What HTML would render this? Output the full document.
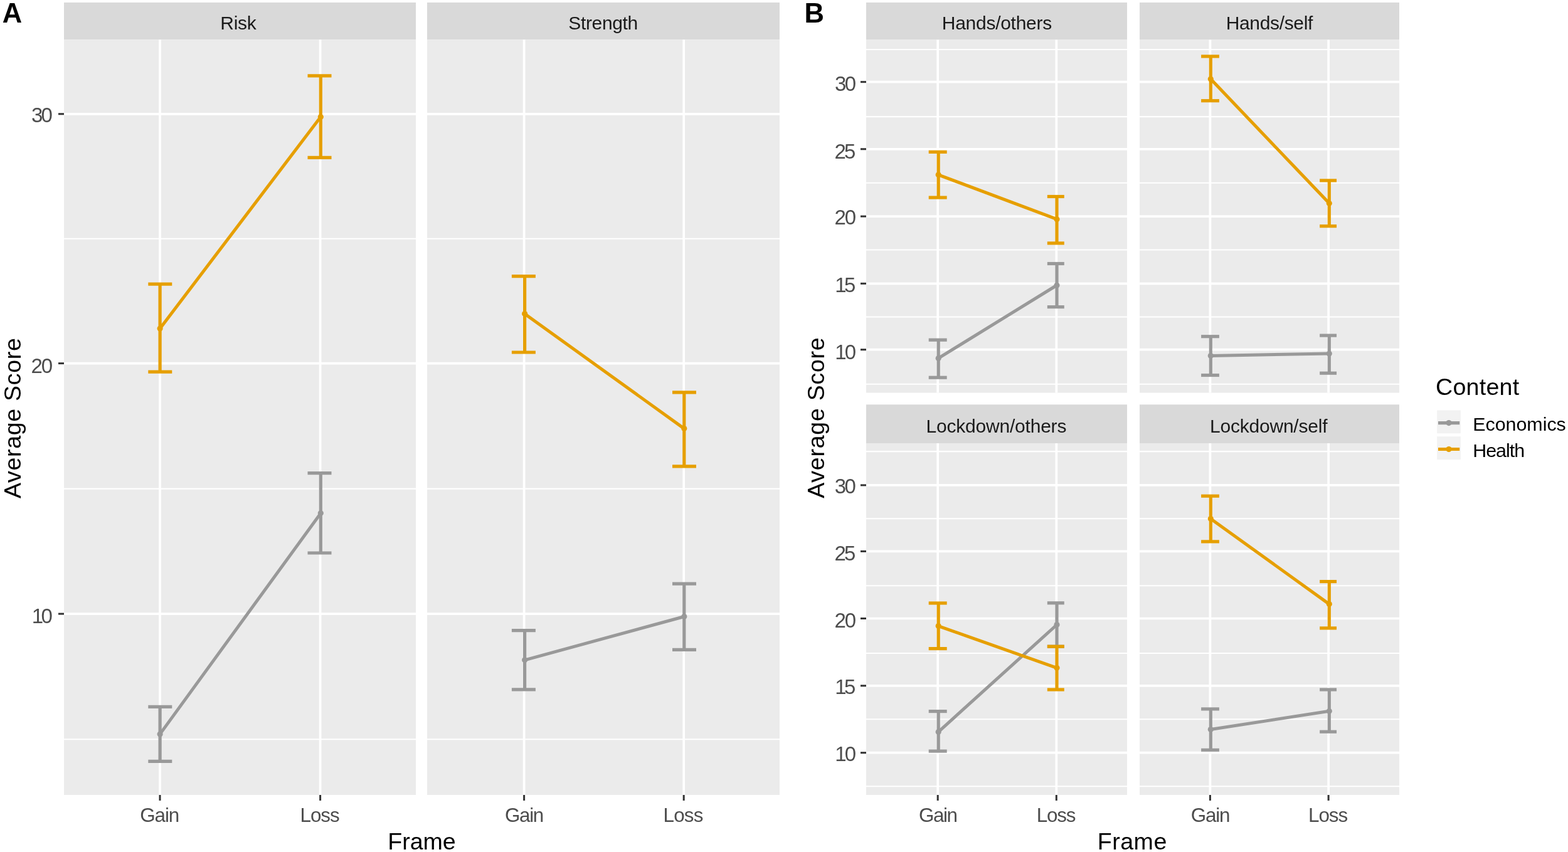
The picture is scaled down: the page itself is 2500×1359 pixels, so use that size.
<!DOCTYPE html>
<html><head><meta charset="utf-8"><title>Average Score by Frame and Content</title>
<style>
html,body{margin:0;padding:0;background:#FFFFFF;}
body{width:2500px;height:1359px;overflow:hidden;}
svg{display:block;}
svg text{font-family:'Liberation Sans', Arial, Helvetica, sans-serif;}
</style></head>
<body>
<svg width="2500" height="1359" viewBox="0 0 2500 1359">
<rect x="0" y="0" width="2500" height="1359" fill="#FFFFFF"/>
<rect x="102" y="4" width="561" height="59.3" fill="#D9D9D9"/>
<text x="380" y="46.8" font-size="30" fill="#1A1A1A" text-anchor="middle" font-weight="normal" textLength="57.33" lengthAdjust="spacing">Risk</text>
<rect x="102" y="63.3" width="561" height="1204.7" fill="#EBEBEB"/>
<g stroke="#FFFFFF">
<line x1="102" y1="380.7" x2="663" y2="380.7" stroke="#FFFFFF" stroke-width="2.1" stroke-linecap="butt"/>
<line x1="102" y1="779.6" x2="663" y2="779.6" stroke="#FFFFFF" stroke-width="2.1" stroke-linecap="butt"/>
<line x1="102" y1="1179.3" x2="663" y2="1179.3" stroke="#FFFFFF" stroke-width="2.1" stroke-linecap="butt"/>
<line x1="102" y1="181.8" x2="663" y2="181.8" stroke="#FFFFFF" stroke-width="3.7" stroke-linecap="butt"/>
<line x1="102" y1="579.6" x2="663" y2="579.6" stroke="#FFFFFF" stroke-width="3.7" stroke-linecap="butt"/>
<line x1="102" y1="979.1" x2="663" y2="979.1" stroke="#FFFFFF" stroke-width="3.7" stroke-linecap="butt"/>
<line x1="255" y1="63.3" x2="255" y2="1268" stroke="#FFFFFF" stroke-width="3.7" stroke-linecap="butt"/>
<line x1="510.6" y1="63.3" x2="510.6" y2="1268" stroke="#FFFFFF" stroke-width="3.7" stroke-linecap="butt"/>
</g>
<line x1="255.1" y1="1127.3" x2="255.1" y2="1214.3" stroke="#999999" stroke-width="5.2" stroke-linecap="butt"/>
<line x1="236.3" y1="1127.3" x2="274.3" y2="1127.3" stroke="#999999" stroke-width="5.2" stroke-linecap="butt"/>
<line x1="236.3" y1="1214.3" x2="274.3" y2="1214.3" stroke="#999999" stroke-width="5.2" stroke-linecap="butt"/>
<line x1="511.3" y1="754.7" x2="511.3" y2="882" stroke="#999999" stroke-width="5.2" stroke-linecap="butt"/>
<line x1="490.5" y1="754.7" x2="528.5" y2="754.7" stroke="#999999" stroke-width="5.2" stroke-linecap="butt"/>
<line x1="490.5" y1="882" x2="528.5" y2="882" stroke="#999999" stroke-width="5.2" stroke-linecap="butt"/>
<line x1="255.1" y1="1170.9" x2="511.3" y2="818.6" stroke="#999999" stroke-width="5" stroke-linecap="round"/>
<circle cx="255.1" cy="1170.9" r="4.6" fill="#999999"/>
<circle cx="511.3" cy="818.6" r="4.6" fill="#999999"/>
<line x1="255.1" y1="453.2" x2="255.1" y2="593.2" stroke="#E69F00" stroke-width="5.2" stroke-linecap="butt"/>
<line x1="236.3" y1="453.2" x2="274.3" y2="453.2" stroke="#E69F00" stroke-width="5.2" stroke-linecap="butt"/>
<line x1="236.3" y1="593.2" x2="274.3" y2="593.2" stroke="#E69F00" stroke-width="5.2" stroke-linecap="butt"/>
<line x1="511.3" y1="120.8" x2="511.3" y2="251.4" stroke="#E69F00" stroke-width="5.2" stroke-linecap="butt"/>
<line x1="490.5" y1="120.8" x2="528.5" y2="120.8" stroke="#E69F00" stroke-width="5.2" stroke-linecap="butt"/>
<line x1="490.5" y1="251.4" x2="528.5" y2="251.4" stroke="#E69F00" stroke-width="5.2" stroke-linecap="butt"/>
<line x1="255.1" y1="524" x2="511.3" y2="186.4" stroke="#E69F00" stroke-width="5" stroke-linecap="round"/>
<circle cx="255.1" cy="524" r="4.6" fill="#E69F00"/>
<circle cx="511.3" cy="186.4" r="4.6" fill="#E69F00"/>
<line x1="93" y1="181.8" x2="102" y2="181.8" stroke="#333333" stroke-width="3" stroke-linecap="butt"/>
<text x="83.8" y="194.71" font-size="33" fill="#4D4D4D" text-anchor="end" font-weight="normal" textLength="33.71" lengthAdjust="spacing">30</text>
<line x1="93" y1="579.6" x2="102" y2="579.6" stroke="#333333" stroke-width="3" stroke-linecap="butt"/>
<text x="84.2" y="594.51" font-size="33" fill="#4D4D4D" text-anchor="end" font-weight="normal" textLength="34.61" lengthAdjust="spacing">20</text>
<line x1="93" y1="979.1" x2="102" y2="979.1" stroke="#333333" stroke-width="3" stroke-linecap="butt"/>
<text x="83.8" y="994.11" font-size="33" fill="#4D4D4D" text-anchor="end" font-weight="normal" textLength="33.01" lengthAdjust="spacing">10</text>
<line x1="255" y1="1268" x2="255" y2="1277" stroke="#333333" stroke-width="3" stroke-linecap="butt"/>
<text x="254.75" y="1311.4" font-size="31.4" fill="#4D4D4D" text-anchor="middle" font-weight="normal" textLength="62.83" lengthAdjust="spacing">Gain</text>
<line x1="510.6" y1="1268" x2="510.6" y2="1277" stroke="#333333" stroke-width="3" stroke-linecap="butt"/>
<text x="510.1" y="1311.4" font-size="31.4" fill="#4D4D4D" text-anchor="middle" font-weight="normal" textLength="63.33" lengthAdjust="spacing">Loss</text>
<rect x="681" y="4" width="562" height="59.3" fill="#D9D9D9"/>
<text x="961.75" y="46.8" font-size="30" fill="#1A1A1A" text-anchor="middle" font-weight="normal" textLength="110.91" lengthAdjust="spacing">Strength</text>
<rect x="681" y="63.3" width="562" height="1204.7" fill="#EBEBEB"/>
<g stroke="#FFFFFF">
<line x1="681" y1="380.7" x2="1243" y2="380.7" stroke="#FFFFFF" stroke-width="2.1" stroke-linecap="butt"/>
<line x1="681" y1="779.6" x2="1243" y2="779.6" stroke="#FFFFFF" stroke-width="2.1" stroke-linecap="butt"/>
<line x1="681" y1="1179.3" x2="1243" y2="1179.3" stroke="#FFFFFF" stroke-width="2.1" stroke-linecap="butt"/>
<line x1="681" y1="181.8" x2="1243" y2="181.8" stroke="#FFFFFF" stroke-width="3.7" stroke-linecap="butt"/>
<line x1="681" y1="579.6" x2="1243" y2="579.6" stroke="#FFFFFF" stroke-width="3.7" stroke-linecap="butt"/>
<line x1="681" y1="979.1" x2="1243" y2="979.1" stroke="#FFFFFF" stroke-width="3.7" stroke-linecap="butt"/>
<line x1="835.6" y1="63.3" x2="835.6" y2="1268" stroke="#FFFFFF" stroke-width="3.7" stroke-linecap="butt"/>
<line x1="1090.2" y1="63.3" x2="1090.2" y2="1268" stroke="#FFFFFF" stroke-width="3.7" stroke-linecap="butt"/>
</g>
<line x1="836.6" y1="1005.7" x2="836.6" y2="1099.9" stroke="#999999" stroke-width="5.2" stroke-linecap="butt"/>
<line x1="815.9" y1="1005.7" x2="853.9" y2="1005.7" stroke="#999999" stroke-width="5.2" stroke-linecap="butt"/>
<line x1="815.9" y1="1099.9" x2="853.9" y2="1099.9" stroke="#999999" stroke-width="5.2" stroke-linecap="butt"/>
<line x1="1090.8" y1="931.1" x2="1090.8" y2="1036.4" stroke="#999999" stroke-width="5.2" stroke-linecap="butt"/>
<line x1="1072" y1="931.1" x2="1110" y2="931.1" stroke="#999999" stroke-width="5.2" stroke-linecap="butt"/>
<line x1="1072" y1="1036.4" x2="1110" y2="1036.4" stroke="#999999" stroke-width="5.2" stroke-linecap="butt"/>
<line x1="836.6" y1="1052.8" x2="1090.8" y2="983.5" stroke="#999999" stroke-width="5" stroke-linecap="round"/>
<circle cx="836.6" cy="1052.8" r="4.6" fill="#999999"/>
<circle cx="1090.8" cy="983.5" r="4.6" fill="#999999"/>
<line x1="836.6" y1="440.6" x2="836.6" y2="562" stroke="#E69F00" stroke-width="5.2" stroke-linecap="butt"/>
<line x1="815.9" y1="440.6" x2="853.9" y2="440.6" stroke="#E69F00" stroke-width="5.2" stroke-linecap="butt"/>
<line x1="815.9" y1="562" x2="853.9" y2="562" stroke="#E69F00" stroke-width="5.2" stroke-linecap="butt"/>
<line x1="1090.8" y1="625.9" x2="1090.8" y2="743.8" stroke="#E69F00" stroke-width="5.2" stroke-linecap="butt"/>
<line x1="1072" y1="625.9" x2="1110" y2="625.9" stroke="#E69F00" stroke-width="5.2" stroke-linecap="butt"/>
<line x1="1072" y1="743.8" x2="1110" y2="743.8" stroke="#E69F00" stroke-width="5.2" stroke-linecap="butt"/>
<line x1="836.6" y1="500.6" x2="1090.8" y2="683.6" stroke="#E69F00" stroke-width="5" stroke-linecap="round"/>
<circle cx="836.6" cy="500.6" r="4.6" fill="#E69F00"/>
<circle cx="1090.8" cy="683.6" r="4.6" fill="#E69F00"/>
<line x1="835.6" y1="1268" x2="835.6" y2="1277" stroke="#333333" stroke-width="3" stroke-linecap="butt"/>
<text x="836.1" y="1311.4" font-size="31.4" fill="#4D4D4D" text-anchor="middle" font-weight="normal" textLength="62.33" lengthAdjust="spacing">Gain</text>
<line x1="1090.2" y1="1268" x2="1090.2" y2="1277" stroke="#333333" stroke-width="3" stroke-linecap="butt"/>
<text x="1089.45" y="1311.4" font-size="31.4" fill="#4D4D4D" text-anchor="middle" font-weight="normal" textLength="63.83" lengthAdjust="spacing">Loss</text>
<rect x="1381" y="4" width="416" height="59.5" fill="#D9D9D9"/>
<text x="1589.5" y="47" font-size="30" fill="#1A1A1A" text-anchor="middle" font-weight="normal" textLength="175.44" lengthAdjust="spacing">Hands/others</text>
<rect x="1381" y="63.5" width="416" height="563" fill="#EBEBEB"/>
<g stroke="#FFFFFF">
<line x1="1381" y1="79" x2="1797" y2="79" stroke="#FFFFFF" stroke-width="2.1" stroke-linecap="butt"/>
<line x1="1381" y1="186.1" x2="1797" y2="186.1" stroke="#FFFFFF" stroke-width="2.1" stroke-linecap="butt"/>
<line x1="1381" y1="291.8" x2="1797" y2="291.8" stroke="#FFFFFF" stroke-width="2.1" stroke-linecap="butt"/>
<line x1="1381" y1="398.5" x2="1797" y2="398.5" stroke="#FFFFFF" stroke-width="2.1" stroke-linecap="butt"/>
<line x1="1381" y1="505.5" x2="1797" y2="505.5" stroke="#FFFFFF" stroke-width="2.1" stroke-linecap="butt"/>
<line x1="1381" y1="612.8" x2="1797" y2="612.8" stroke="#FFFFFF" stroke-width="2.1" stroke-linecap="butt"/>
<line x1="1381" y1="130.7" x2="1797" y2="130.7" stroke="#FFFFFF" stroke-width="3.7" stroke-linecap="butt"/>
<line x1="1381" y1="237.8" x2="1797" y2="237.8" stroke="#FFFFFF" stroke-width="3.7" stroke-linecap="butt"/>
<line x1="1381" y1="345.1" x2="1797" y2="345.1" stroke="#FFFFFF" stroke-width="3.7" stroke-linecap="butt"/>
<line x1="1381" y1="452.3" x2="1797" y2="452.3" stroke="#FFFFFF" stroke-width="3.7" stroke-linecap="butt"/>
<line x1="1381" y1="557.7" x2="1797" y2="557.7" stroke="#FFFFFF" stroke-width="3.7" stroke-linecap="butt"/>
<line x1="1495.2" y1="63.5" x2="1495.2" y2="626.5" stroke="#FFFFFF" stroke-width="3.7" stroke-linecap="butt"/>
<line x1="1684.3" y1="63.5" x2="1684.3" y2="626.5" stroke="#FFFFFF" stroke-width="3.7" stroke-linecap="butt"/>
</g>
<line x1="1496.2" y1="542.2" x2="1496.2" y2="602.2" stroke="#999999" stroke-width="5.2" stroke-linecap="butt"/>
<line x1="1480.7" y1="542.2" x2="1509.7" y2="542.2" stroke="#999999" stroke-width="5.2" stroke-linecap="butt"/>
<line x1="1480.7" y1="602.2" x2="1509.7" y2="602.2" stroke="#999999" stroke-width="5.2" stroke-linecap="butt"/>
<line x1="1685" y1="420.5" x2="1685" y2="489.6" stroke="#999999" stroke-width="5.2" stroke-linecap="butt"/>
<line x1="1669.8" y1="420.5" x2="1696.8" y2="420.5" stroke="#999999" stroke-width="5.2" stroke-linecap="butt"/>
<line x1="1669.8" y1="489.6" x2="1696.8" y2="489.6" stroke="#999999" stroke-width="5.2" stroke-linecap="butt"/>
<line x1="1496.2" y1="571.4" x2="1685" y2="455" stroke="#999999" stroke-width="5" stroke-linecap="round"/>
<circle cx="1496.2" cy="571.4" r="4.6" fill="#999999"/>
<circle cx="1685" cy="455" r="4.6" fill="#999999"/>
<line x1="1496.2" y1="242.4" x2="1496.2" y2="315.1" stroke="#E69F00" stroke-width="5.2" stroke-linecap="butt"/>
<line x1="1480.7" y1="242.4" x2="1509.7" y2="242.4" stroke="#E69F00" stroke-width="5.2" stroke-linecap="butt"/>
<line x1="1480.7" y1="315.1" x2="1509.7" y2="315.1" stroke="#E69F00" stroke-width="5.2" stroke-linecap="butt"/>
<line x1="1685" y1="313.5" x2="1685" y2="387.9" stroke="#E69F00" stroke-width="5.2" stroke-linecap="butt"/>
<line x1="1669.8" y1="313.5" x2="1696.8" y2="313.5" stroke="#E69F00" stroke-width="5.2" stroke-linecap="butt"/>
<line x1="1669.8" y1="387.9" x2="1696.8" y2="387.9" stroke="#E69F00" stroke-width="5.2" stroke-linecap="butt"/>
<line x1="1496.2" y1="278.8" x2="1685" y2="349.7" stroke="#E69F00" stroke-width="5" stroke-linecap="round"/>
<circle cx="1496.2" cy="278.8" r="4.6" fill="#E69F00"/>
<circle cx="1685" cy="349.7" r="4.6" fill="#E69F00"/>
<line x1="1372" y1="130.7" x2="1381" y2="130.7" stroke="#333333" stroke-width="3" stroke-linecap="butt"/>
<text x="1365" y="145.31" font-size="33" fill="#4D4D4D" text-anchor="end" font-weight="normal" textLength="33.91" lengthAdjust="spacing">30</text>
<line x1="1372" y1="237.8" x2="1381" y2="237.8" stroke="#333333" stroke-width="3" stroke-linecap="butt"/>
<text x="1364.4" y="252.91" font-size="33" fill="#4D4D4D" text-anchor="end" font-weight="normal" textLength="33.81" lengthAdjust="spacing">25</text>
<line x1="1372" y1="345.1" x2="1381" y2="345.1" stroke="#333333" stroke-width="3" stroke-linecap="butt"/>
<text x="1365" y="357.91" font-size="33" fill="#4D4D4D" text-anchor="end" font-weight="normal" textLength="34.51" lengthAdjust="spacing">20</text>
<line x1="1372" y1="452.3" x2="1381" y2="452.3" stroke="#333333" stroke-width="3" stroke-linecap="butt"/>
<text x="1364.4" y="465.71" font-size="33" fill="#4D4D4D" text-anchor="end" font-weight="normal" textLength="33.11" lengthAdjust="spacing">15</text>
<line x1="1372" y1="557.7" x2="1381" y2="557.7" stroke="#333333" stroke-width="3" stroke-linecap="butt"/>
<text x="1365" y="573.11" font-size="33" fill="#4D4D4D" text-anchor="end" font-weight="normal" textLength="33.81" lengthAdjust="spacing">10</text>
<rect x="1817" y="4" width="414" height="59.5" fill="#D9D9D9"/>
<text x="2024" y="47" font-size="30" fill="#1A1A1A" text-anchor="middle" font-weight="normal" textLength="138.74" lengthAdjust="spacing">Hands/self</text>
<rect x="1817" y="63.5" width="414" height="563" fill="#EBEBEB"/>
<g stroke="#FFFFFF">
<line x1="1817" y1="79" x2="2231" y2="79" stroke="#FFFFFF" stroke-width="2.1" stroke-linecap="butt"/>
<line x1="1817" y1="186.1" x2="2231" y2="186.1" stroke="#FFFFFF" stroke-width="2.1" stroke-linecap="butt"/>
<line x1="1817" y1="291.8" x2="2231" y2="291.8" stroke="#FFFFFF" stroke-width="2.1" stroke-linecap="butt"/>
<line x1="1817" y1="398.5" x2="2231" y2="398.5" stroke="#FFFFFF" stroke-width="2.1" stroke-linecap="butt"/>
<line x1="1817" y1="505.5" x2="2231" y2="505.5" stroke="#FFFFFF" stroke-width="2.1" stroke-linecap="butt"/>
<line x1="1817" y1="612.8" x2="2231" y2="612.8" stroke="#FFFFFF" stroke-width="2.1" stroke-linecap="butt"/>
<line x1="1817" y1="130.7" x2="2231" y2="130.7" stroke="#FFFFFF" stroke-width="3.7" stroke-linecap="butt"/>
<line x1="1817" y1="237.8" x2="2231" y2="237.8" stroke="#FFFFFF" stroke-width="3.7" stroke-linecap="butt"/>
<line x1="1817" y1="345.1" x2="2231" y2="345.1" stroke="#FFFFFF" stroke-width="3.7" stroke-linecap="butt"/>
<line x1="1817" y1="452.3" x2="2231" y2="452.3" stroke="#FFFFFF" stroke-width="3.7" stroke-linecap="butt"/>
<line x1="1817" y1="557.7" x2="2231" y2="557.7" stroke="#FFFFFF" stroke-width="3.7" stroke-linecap="butt"/>
<line x1="1929.4" y1="63.5" x2="1929.4" y2="626.5" stroke="#FFFFFF" stroke-width="3.7" stroke-linecap="butt"/>
<line x1="2118.1" y1="63.5" x2="2118.1" y2="626.5" stroke="#FFFFFF" stroke-width="3.7" stroke-linecap="butt"/>
</g>
<line x1="1930.3" y1="536.7" x2="1930.3" y2="598.5" stroke="#999999" stroke-width="5.2" stroke-linecap="butt"/>
<line x1="1915.1" y1="536.7" x2="1943.9" y2="536.7" stroke="#999999" stroke-width="5.2" stroke-linecap="butt"/>
<line x1="1915.1" y1="598.5" x2="1943.9" y2="598.5" stroke="#999999" stroke-width="5.2" stroke-linecap="butt"/>
<line x1="2119.3" y1="535.1" x2="2119.3" y2="595.2" stroke="#999999" stroke-width="5.2" stroke-linecap="butt"/>
<line x1="2104.15" y1="535.1" x2="2131.05" y2="535.1" stroke="#999999" stroke-width="5.2" stroke-linecap="butt"/>
<line x1="2104.15" y1="595.2" x2="2131.05" y2="595.2" stroke="#999999" stroke-width="5.2" stroke-linecap="butt"/>
<line x1="1930.3" y1="567.5" x2="2119.3" y2="564" stroke="#999999" stroke-width="5" stroke-linecap="round"/>
<circle cx="1930.3" cy="567.5" r="4.6" fill="#999999"/>
<circle cx="2119.3" cy="564" r="4.6" fill="#999999"/>
<line x1="1930.3" y1="89.9" x2="1930.3" y2="160.7" stroke="#E69F00" stroke-width="5.2" stroke-linecap="butt"/>
<line x1="1915.1" y1="89.9" x2="1943.9" y2="89.9" stroke="#E69F00" stroke-width="5.2" stroke-linecap="butt"/>
<line x1="1915.1" y1="160.7" x2="1943.9" y2="160.7" stroke="#E69F00" stroke-width="5.2" stroke-linecap="butt"/>
<line x1="2119.3" y1="287.9" x2="2119.3" y2="360.7" stroke="#E69F00" stroke-width="5.2" stroke-linecap="butt"/>
<line x1="2104.15" y1="287.9" x2="2131.05" y2="287.9" stroke="#E69F00" stroke-width="5.2" stroke-linecap="butt"/>
<line x1="2104.15" y1="360.7" x2="2131.05" y2="360.7" stroke="#E69F00" stroke-width="5.2" stroke-linecap="butt"/>
<line x1="1930.3" y1="126.1" x2="2119.3" y2="324.3" stroke="#E69F00" stroke-width="5" stroke-linecap="round"/>
<circle cx="1930.3" cy="126.1" r="4.6" fill="#E69F00"/>
<circle cx="2119.3" cy="324.3" r="4.6" fill="#E69F00"/>
<rect x="1381" y="645.3" width="416" height="61.7" fill="#D9D9D9"/>
<text x="1588.5" y="690.3" font-size="30" fill="#1A1A1A" text-anchor="middle" font-weight="normal" textLength="223.81" lengthAdjust="spacing">Lockdown/others</text>
<rect x="1381" y="707" width="416" height="561" fill="#EBEBEB"/>
<g stroke="#FFFFFF">
<line x1="1381" y1="720.1" x2="1797" y2="720.1" stroke="#FFFFFF" stroke-width="2.1" stroke-linecap="butt"/>
<line x1="1381" y1="827.3" x2="1797" y2="827.3" stroke="#FFFFFF" stroke-width="2.1" stroke-linecap="butt"/>
<line x1="1381" y1="934.2" x2="1797" y2="934.2" stroke="#FFFFFF" stroke-width="2.1" stroke-linecap="butt"/>
<line x1="1381" y1="1042" x2="1797" y2="1042" stroke="#FFFFFF" stroke-width="2.1" stroke-linecap="butt"/>
<line x1="1381" y1="1147.3" x2="1797" y2="1147.3" stroke="#FFFFFF" stroke-width="2.1" stroke-linecap="butt"/>
<line x1="1381" y1="1254.3" x2="1797" y2="1254.3" stroke="#FFFFFF" stroke-width="2.1" stroke-linecap="butt"/>
<line x1="1381" y1="773.9" x2="1797" y2="773.9" stroke="#FFFFFF" stroke-width="3.7" stroke-linecap="butt"/>
<line x1="1381" y1="879.4" x2="1797" y2="879.4" stroke="#FFFFFF" stroke-width="3.7" stroke-linecap="butt"/>
<line x1="1381" y1="986.5" x2="1797" y2="986.5" stroke="#FFFFFF" stroke-width="3.7" stroke-linecap="butt"/>
<line x1="1381" y1="1093.8" x2="1797" y2="1093.8" stroke="#FFFFFF" stroke-width="3.7" stroke-linecap="butt"/>
<line x1="1381" y1="1200.7" x2="1797" y2="1200.7" stroke="#FFFFFF" stroke-width="3.7" stroke-linecap="butt"/>
<line x1="1495.2" y1="707" x2="1495.2" y2="1268" stroke="#FFFFFF" stroke-width="3.7" stroke-linecap="butt"/>
<line x1="1684.3" y1="707" x2="1684.3" y2="1268" stroke="#FFFFFF" stroke-width="3.7" stroke-linecap="butt"/>
</g>
<line x1="1496.2" y1="1134.6" x2="1496.2" y2="1198.1" stroke="#999999" stroke-width="5.2" stroke-linecap="butt"/>
<line x1="1480.7" y1="1134.6" x2="1509.7" y2="1134.6" stroke="#999999" stroke-width="5.2" stroke-linecap="butt"/>
<line x1="1480.7" y1="1198.1" x2="1509.7" y2="1198.1" stroke="#999999" stroke-width="5.2" stroke-linecap="butt"/>
<line x1="1685" y1="961.8" x2="1685" y2="1031.2" stroke="#999999" stroke-width="5.2" stroke-linecap="butt"/>
<line x1="1669.8" y1="961.8" x2="1696.8" y2="961.8" stroke="#999999" stroke-width="5.2" stroke-linecap="butt"/>
<line x1="1669.8" y1="1031.2" x2="1696.8" y2="1031.2" stroke="#999999" stroke-width="5.2" stroke-linecap="butt"/>
<line x1="1496.2" y1="1167.4" x2="1685" y2="996.5" stroke="#999999" stroke-width="5" stroke-linecap="round"/>
<circle cx="1496.2" cy="1167.4" r="4.6" fill="#999999"/>
<circle cx="1685" cy="996.5" r="4.6" fill="#999999"/>
<line x1="1496.2" y1="962" x2="1496.2" y2="1034.6" stroke="#E69F00" stroke-width="5.2" stroke-linecap="butt"/>
<line x1="1480.7" y1="962" x2="1509.7" y2="962" stroke="#E69F00" stroke-width="5.2" stroke-linecap="butt"/>
<line x1="1480.7" y1="1034.6" x2="1509.7" y2="1034.6" stroke="#E69F00" stroke-width="5.2" stroke-linecap="butt"/>
<line x1="1685" y1="1031.2" x2="1685" y2="1100" stroke="#E69F00" stroke-width="5.2" stroke-linecap="butt"/>
<line x1="1669.8" y1="1031.2" x2="1696.8" y2="1031.2" stroke="#E69F00" stroke-width="5.2" stroke-linecap="butt"/>
<line x1="1669.8" y1="1100" x2="1696.8" y2="1100" stroke="#E69F00" stroke-width="5.2" stroke-linecap="butt"/>
<line x1="1496.2" y1="998.6" x2="1685" y2="1065.3" stroke="#E69F00" stroke-width="5" stroke-linecap="round"/>
<circle cx="1496.2" cy="998.6" r="4.6" fill="#E69F00"/>
<circle cx="1685" cy="1065.3" r="4.6" fill="#E69F00"/>
<line x1="1372" y1="773.9" x2="1381" y2="773.9" stroke="#333333" stroke-width="3" stroke-linecap="butt"/>
<text x="1364.8" y="786.71" font-size="33" fill="#4D4D4D" text-anchor="end" font-weight="normal" textLength="34.01" lengthAdjust="spacing">30</text>
<line x1="1372" y1="879.4" x2="1381" y2="879.4" stroke="#333333" stroke-width="3" stroke-linecap="butt"/>
<text x="1364.4" y="893.91" font-size="33" fill="#4D4D4D" text-anchor="end" font-weight="normal" textLength="33.81" lengthAdjust="spacing">25</text>
<line x1="1372" y1="986.5" x2="1381" y2="986.5" stroke="#333333" stroke-width="3" stroke-linecap="butt"/>
<text x="1365" y="1001.31" font-size="33" fill="#4D4D4D" text-anchor="end" font-weight="normal" textLength="34.51" lengthAdjust="spacing">20</text>
<line x1="1372" y1="1093.8" x2="1381" y2="1093.8" stroke="#333333" stroke-width="3" stroke-linecap="butt"/>
<text x="1364.4" y="1107.11" font-size="33" fill="#4D4D4D" text-anchor="end" font-weight="normal" textLength="33.11" lengthAdjust="spacing">15</text>
<line x1="1372" y1="1200.7" x2="1381" y2="1200.7" stroke="#333333" stroke-width="3" stroke-linecap="butt"/>
<text x="1365" y="1213.71" font-size="33" fill="#4D4D4D" text-anchor="end" font-weight="normal" textLength="33.81" lengthAdjust="spacing">10</text>
<line x1="1495.2" y1="1268" x2="1495.2" y2="1277" stroke="#333333" stroke-width="3" stroke-linecap="butt"/>
<text x="1495.95" y="1311.4" font-size="31.4" fill="#4D4D4D" text-anchor="middle" font-weight="normal" textLength="61.83" lengthAdjust="spacing">Gain</text>
<line x1="1684.3" y1="1268" x2="1684.3" y2="1277" stroke="#333333" stroke-width="3" stroke-linecap="butt"/>
<text x="1684.05" y="1311.4" font-size="31.4" fill="#4D4D4D" text-anchor="middle" font-weight="normal" textLength="62.83" lengthAdjust="spacing">Loss</text>
<rect x="1817" y="645.3" width="414" height="61.7" fill="#D9D9D9"/>
<text x="2022.75" y="690.3" font-size="30" fill="#1A1A1A" text-anchor="middle" font-weight="normal" textLength="187.61" lengthAdjust="spacing">Lockdown/self</text>
<rect x="1817" y="707" width="414" height="561" fill="#EBEBEB"/>
<g stroke="#FFFFFF">
<line x1="1817" y1="720.1" x2="2231" y2="720.1" stroke="#FFFFFF" stroke-width="2.1" stroke-linecap="butt"/>
<line x1="1817" y1="827.3" x2="2231" y2="827.3" stroke="#FFFFFF" stroke-width="2.1" stroke-linecap="butt"/>
<line x1="1817" y1="934.2" x2="2231" y2="934.2" stroke="#FFFFFF" stroke-width="2.1" stroke-linecap="butt"/>
<line x1="1817" y1="1042" x2="2231" y2="1042" stroke="#FFFFFF" stroke-width="2.1" stroke-linecap="butt"/>
<line x1="1817" y1="1147.3" x2="2231" y2="1147.3" stroke="#FFFFFF" stroke-width="2.1" stroke-linecap="butt"/>
<line x1="1817" y1="1254.3" x2="2231" y2="1254.3" stroke="#FFFFFF" stroke-width="2.1" stroke-linecap="butt"/>
<line x1="1817" y1="773.9" x2="2231" y2="773.9" stroke="#FFFFFF" stroke-width="3.7" stroke-linecap="butt"/>
<line x1="1817" y1="879.4" x2="2231" y2="879.4" stroke="#FFFFFF" stroke-width="3.7" stroke-linecap="butt"/>
<line x1="1817" y1="986.5" x2="2231" y2="986.5" stroke="#FFFFFF" stroke-width="3.7" stroke-linecap="butt"/>
<line x1="1817" y1="1093.8" x2="2231" y2="1093.8" stroke="#FFFFFF" stroke-width="3.7" stroke-linecap="butt"/>
<line x1="1817" y1="1200.7" x2="2231" y2="1200.7" stroke="#FFFFFF" stroke-width="3.7" stroke-linecap="butt"/>
<line x1="1929.4" y1="707" x2="1929.4" y2="1268" stroke="#FFFFFF" stroke-width="3.7" stroke-linecap="butt"/>
<line x1="2118.1" y1="707" x2="2118.1" y2="1268" stroke="#FFFFFF" stroke-width="3.7" stroke-linecap="butt"/>
</g>
<line x1="1930.3" y1="1130.9" x2="1930.3" y2="1196.3" stroke="#999999" stroke-width="5.2" stroke-linecap="butt"/>
<line x1="1915.1" y1="1130.9" x2="1943.9" y2="1130.9" stroke="#999999" stroke-width="5.2" stroke-linecap="butt"/>
<line x1="1915.1" y1="1196.3" x2="1943.9" y2="1196.3" stroke="#999999" stroke-width="5.2" stroke-linecap="butt"/>
<line x1="2119.3" y1="1100" x2="2119.3" y2="1167.2" stroke="#999999" stroke-width="5.2" stroke-linecap="butt"/>
<line x1="2104.15" y1="1100" x2="2131.05" y2="1100" stroke="#999999" stroke-width="5.2" stroke-linecap="butt"/>
<line x1="2104.15" y1="1167.2" x2="2131.05" y2="1167.2" stroke="#999999" stroke-width="5.2" stroke-linecap="butt"/>
<line x1="1930.3" y1="1163.5" x2="2119.3" y2="1134.3" stroke="#999999" stroke-width="5" stroke-linecap="round"/>
<circle cx="1930.3" cy="1163.5" r="4.6" fill="#999999"/>
<circle cx="2119.3" cy="1134.3" r="4.6" fill="#999999"/>
<line x1="1930.3" y1="791.2" x2="1930.3" y2="863.9" stroke="#E69F00" stroke-width="5.2" stroke-linecap="butt"/>
<line x1="1915.1" y1="791.2" x2="1943.9" y2="791.2" stroke="#E69F00" stroke-width="5.2" stroke-linecap="butt"/>
<line x1="1915.1" y1="863.9" x2="1943.9" y2="863.9" stroke="#E69F00" stroke-width="5.2" stroke-linecap="butt"/>
<line x1="2119.3" y1="927.6" x2="2119.3" y2="1001.9" stroke="#E69F00" stroke-width="5.2" stroke-linecap="butt"/>
<line x1="2104.15" y1="927.6" x2="2131.05" y2="927.6" stroke="#E69F00" stroke-width="5.2" stroke-linecap="butt"/>
<line x1="2104.15" y1="1001.9" x2="2131.05" y2="1001.9" stroke="#E69F00" stroke-width="5.2" stroke-linecap="butt"/>
<line x1="1930.3" y1="827.5" x2="2119.3" y2="963.6" stroke="#E69F00" stroke-width="5" stroke-linecap="round"/>
<circle cx="1930.3" cy="827.5" r="4.6" fill="#E69F00"/>
<circle cx="2119.3" cy="963.6" r="4.6" fill="#E69F00"/>
<line x1="1929.4" y1="1268" x2="1929.4" y2="1277" stroke="#333333" stroke-width="3" stroke-linecap="butt"/>
<text x="1930.15" y="1311.4" font-size="31.4" fill="#4D4D4D" text-anchor="middle" font-weight="normal" textLength="62.83" lengthAdjust="spacing">Gain</text>
<line x1="2118.1" y1="1268" x2="2118.1" y2="1277" stroke="#333333" stroke-width="3" stroke-linecap="butt"/>
<text x="2117.6" y="1311.4" font-size="31.4" fill="#4D4D4D" text-anchor="middle" font-weight="normal" textLength="63.33" lengthAdjust="spacing">Loss</text>
<text x="672.5" y="1355" font-size="37.6" fill="#000000" text-anchor="middle" font-weight="normal">Frame</text>
<text x="1805" y="1355" font-size="37.6" fill="#000000" text-anchor="middle" font-weight="normal" textLength="110.64" lengthAdjust="spacing">Frame</text>
<text transform="translate(32.7 667.1) rotate(-90)" font-size="37.6" fill="#000000" text-anchor="middle" textLength="256.05" lengthAdjust="spacing">Average Score</text>
<text transform="translate(1313.8 666.55) rotate(-90)" font-size="37.6" fill="#000000" text-anchor="middle" textLength="256.55" lengthAdjust="spacing">Average Score</text>
<text x="3.8" y="35.8" font-size="43.5" fill="#000000" text-anchor="start" font-weight="bold">A</text>
<text x="1282.6" y="35.9" font-size="43.5" fill="#000000" text-anchor="start" font-weight="bold">B</text>
<text x="2289" y="629.8" font-size="37.6" fill="#000000" text-anchor="start" font-weight="normal" textLength="133.19" lengthAdjust="spacing">Content</text>
<rect x="2291.2" y="654.4" width="37.6" height="36.9" fill="#F2F2F2"/>
<rect x="2291.2" y="696.2" width="37.6" height="36.9" fill="#F2F2F2"/>
<line x1="2293" y1="674.6" x2="2327.2" y2="674.6" stroke="#999999" stroke-width="5.2" stroke-linecap="butt"/>
<line x1="2293" y1="716.5" x2="2327.2" y2="716.5" stroke="#E69F00" stroke-width="5.2" stroke-linecap="butt"/>
<circle cx="2310" cy="674.6" r="4.6" fill="#999999"/>
<circle cx="2310" cy="716.5" r="4.6" fill="#E69F00"/>
<text x="2348.2" y="686.9" font-size="30.4" fill="#000000" text-anchor="start" font-weight="normal">Economics</text>
<text x="2348.2" y="728.8" font-size="30.4" fill="#000000" text-anchor="start" font-weight="normal" textLength="82.88" lengthAdjust="spacing">Health</text>
</svg>
</body></html>
